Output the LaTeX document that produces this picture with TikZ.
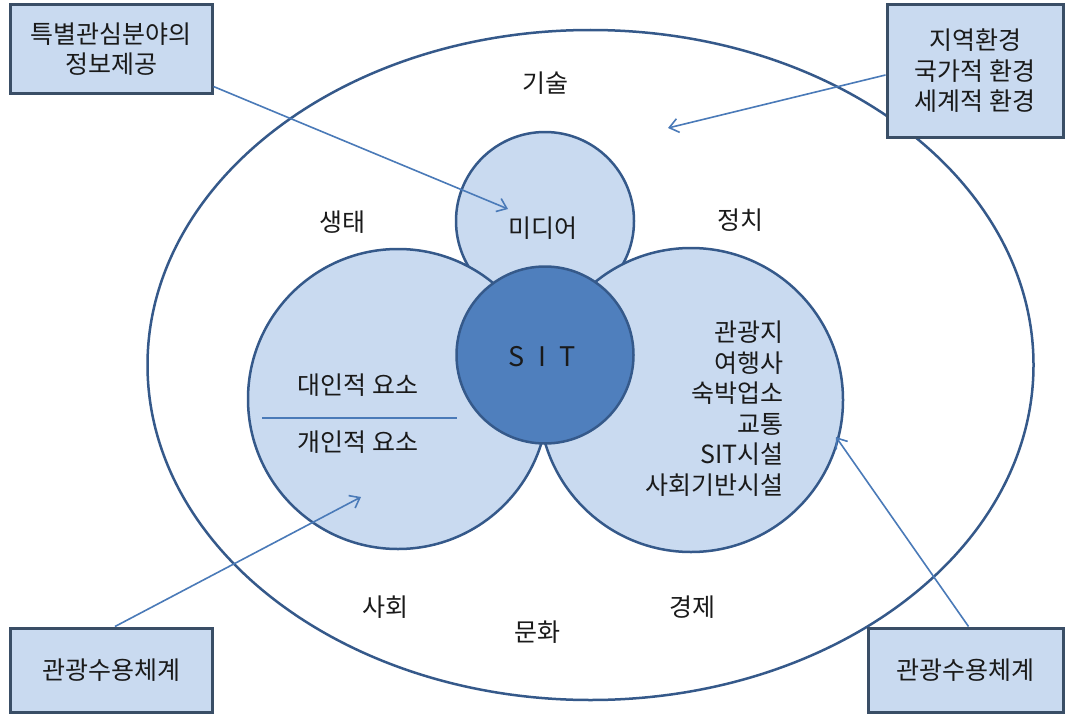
\documentclass[tikz,border=0pt]{standalone}
\usepackage{fontspec}
\setmainfont{Noto Sans CJK KR}
\usetikzlibrary{shapes.geometric,arrows.meta}
\definecolor{lightfill}{HTML}{C9DAF0}
\definecolor{edgeblue}{HTML}{35598A}
\definecolor{sitfill}{HTML}{4F7FBD}
\definecolor{boxedge}{HTML}{3A4E66}
\definecolor{arrowblue}{HTML}{4A7AB8}
\definecolor{txt}{HTML}{1A1A1A}
\tikzset{
  ring/.style={circle, draw=edgeblue, line width=2.5pt, fill=lightfill, inner sep=0pt},
  infobox/.style={rectangle, draw=boxedge, line width=3pt, fill=lightfill, inner sep=0pt, align=center, font=\fontsize{25}{30.5}\selectfont, text=txt},
  lbl/.style={font=\fontsize{25}{30.5}\selectfont, text=txt, inner sep=0pt},
  pointer/.style={draw=arrowblue, line width=1.6pt, -{Straight Barb[length=9pt,width=14pt,line width=1.6pt]}},
}
\begin{document}
\begin{tikzpicture}[x=1pt,y=-1pt]
\useasboundingbox (0,0) rectangle (1067,717);
\fill[white] (0,0) rectangle (1067,717);
% outer ellipse
\node[ellipse, draw=edgeblue, line width=2.5pt, fill=white, minimum width=886pt, minimum height=670pt, inner sep=0pt] (world) at (590.5,365) {};
% circles
\node[ring, minimum size=178pt] (media) at (545,221) {};
\node[ring, minimum size=300pt] (left) at (398,399) {};
\node[ring, minimum size=304pt] (right) at (691,400) {};
\node[circle, draw=edgeblue, line width=2.5pt, fill=sitfill, inner sep=0pt, minimum size=177pt] (sit) at (545,355) {};
\node[lbl, font=\fontsize{27}{30}\selectfont] (sittext) at (542,357) {S\,\,\,I\,\,\,T};
\node[lbl] (mediatext) at (543,228) {미디어};
% divider in left circle
\coordinate (divA) at (262,418);
\coordinate (divB) at (457,418);
\draw[arrowblue, line width=1.6pt] (divA) -- (divB);
\node[lbl] (inter) at (358,385) {대인적 요소};
\node[lbl] (indiv) at (358,442) {개인적 요소};
% right circle list
\node[lbl, align=right, anchor=north east] (list) at (784,321) {관광지\\여행사\\숙박업소\\교통\\SIT시설\\사회기반시설};
% environment labels
\node[lbl] (tech) at (545,83) {기술};
\node[lbl] (eco) at (342,222) {생태};
\node[lbl] (pol) at (740,220) {정치};
\node[lbl] (soc) at (385,607) {사회};
\node[lbl] (cul) at (537,632) {문화};
\node[lbl] (econ) at (692,607) {경제};
% boxes
\node[infobox, minimum width=202pt, minimum height=88pt] (boxTL) at (111,49) {특별관심분야의\\정보제공};
\node[infobox, minimum width=176pt, minimum height=132pt] (boxTR) at (975,71) {지역환경\\국가적 환경\\세계적 환경};
\node[infobox, minimum width=202pt, minimum height=84pt] (boxBL) at (111,670) {관광수용체계};
\node[infobox, minimum width=195pt, minimum height=84pt] (boxBR) at (965.5,670) {관광수용체계};
% arrow targets
\coordinate (tMedia) at (508,209);
\coordinate (tWorld) at (668,128);
\coordinate (tLeft) at (361,497);
\coordinate (tRight) at (836,437);
\draw[pointer] (boxTL.south east) ++(0,-8) -- (tMedia);
\draw[pointer] (boxTR.west) ++(0,4) -- (tWorld);
\draw[pointer] (boxBL.north) ++(4,0) -- (tLeft);
\draw[pointer] (boxBR.north) ++(3,0) -- (tRight);
\end{tikzpicture}
\end{document}
